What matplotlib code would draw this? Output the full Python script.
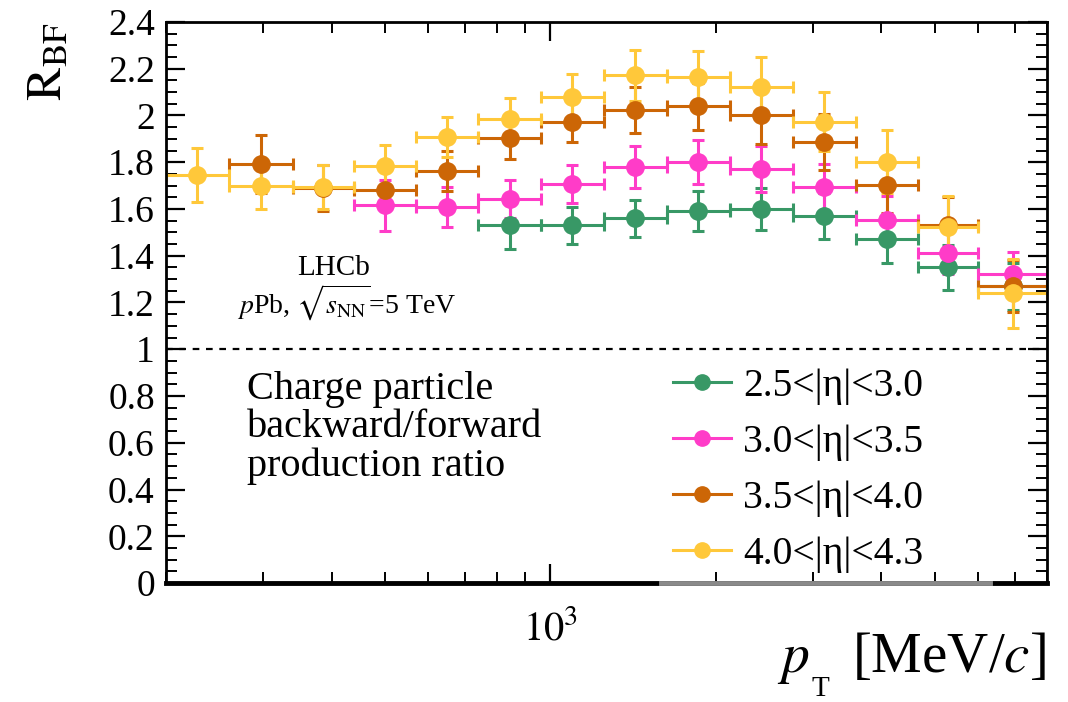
import matplotlib.pyplot as plt
from matplotlib.lines import Line2D
from matplotlib.ticker import MultipleLocator, LogLocator, NullFormatter, FixedLocator, FixedFormatter

plt.rcParams['font.family'] = ['Liberation Serif', 'DejaVu Serif']
plt.rcParams['mathtext.fontset'] = 'stix'

# bin edges in pT [MeV/c]
edges = [200, 260, 340, 440, 570, 740, 960, 1250, 1630, 2120, 2760, 3590, 4660, 6000, 8000]

# R_BF values per eta bin (first bin index where the series starts)
labels = ['2.5<|η|<3.0', '3.0<|η|<3.5', '3.5<|η|<4.0', '4.0<|η|<4.3']
colors = ['#389866', '#ff3cc8', '#cc6606', '#ffc83a']
start = [5, 3, 1, 0]

r_eta1 = [1.53, 1.53, 1.56, 1.59, 1.60, 1.57, 1.47, 1.35, 1.27]
e_eta1 = [0.10, 0.08, 0.08, 0.086, 0.09, 0.097, 0.10, 0.098, 0.10]
r_eta2 = [1.615, 1.608, 1.642, 1.707, 1.778, 1.800, 1.771, 1.692, 1.554, 1.411, 1.322]
e_eta2 = [0.11, 0.085, 0.08, 0.08, 0.09, 0.094, 0.10, 0.10, 0.10, 0.09, 0.096]
r_eta3 = [1.793, 1.69, 1.682, 1.763, 1.904, 1.973, 2.023, 2.039, 2.004, 1.888, 1.701, 1.532, 1.270]
e_eta3 = [0.125, 0.10, 0.085, 0.085, 0.09, 0.088, 0.10, 0.10, 0.124, 0.12, 0.12, 0.12, 0.11]
r_eta4 = [1.747, 1.697, 1.694, 1.782, 1.909, 1.983, 2.079, 2.172, 2.164, 2.122, 1.973, 1.803, 1.525, 1.239]
e_eta4 = [0.115, 0.095, 0.095, 0.09, 0.085, 0.09, 0.097, 0.11, 0.11, 0.13, 0.127, 0.134, 0.13, 0.146]

series = [(r_eta1, e_eta1), (r_eta2, e_eta2), (r_eta3, e_eta3), (r_eta4, e_eta4)]

fig = plt.figure(figsize=(10.68, 7.02), dpi=100)
ax = fig.add_axes([0.1554, 0.1695, 0.8249, 0.7992])

for (vals, errs), c, s in zip(series, colors, start):
    lo = edges[s:s + len(vals)]
    hi = edges[s + 1:s + 1 + len(vals)]
    xc = [(a * b) ** 0.5 for a, b in zip(lo, hi)]
    xerr = [[x - a for x, a in zip(xc, lo)], [b - x for x, b in zip(xc, hi)]]
    ax.errorbar(xc, vals, xerr=xerr, yerr=errs, fmt='o', color=c, ms=12.5,
                elinewidth=2.2, capsize=4, capthick=2.2, clip_on=True)

ax.axhline(1, color='black', ls=(0, (3, 3)), lw=1.6)

ax.set_xscale('log')
ax.set_xlim(200, 8000)
ax.set_ylim(0, 2.4)

ax.yaxis.set_minor_locator(MultipleLocator(0.05))
ax.set_yticks([0, 0.2, 0.4, 0.6, 0.8, 1, 1.2, 1.4, 1.6, 1.8, 2, 2.2, 2.4])
ax.set_yticklabels(['0', '0.2', '0.4', '0.6', '0.8', '1', '1.2', '1.4', '1.6', '1.8', '2', '2.2', '2.4'])
ax.xaxis.set_major_locator(FixedLocator([1000]))
ax.xaxis.set_major_formatter(FixedFormatter([r'$10^{3}$']))
ax.xaxis.set_minor_locator(LogLocator(base=10, subs=range(2, 10), numticks=20))
ax.xaxis.set_minor_formatter(NullFormatter())

ax.tick_params(which='both', direction='in', top=True, right=True, pad=8)
ax.tick_params(axis='y', labelsize=27)
ax.tick_params(axis='x', labelsize=29)
ax.tick_params(which='major', length=14, width=1.6)
ax.tick_params(which='minor', length=8, width=1.4)
ax.tick_params(axis='x', which='major', pad=20)

for side in ['left', 'right', 'top']:
    ax.spines[side].set_linewidth(2)
ax.spines['bottom'].set_linewidth(3.5)

# grey segment over the bottom axis under the legend
ax.plot([1590, 6310], [0, 0], color='#8a8a8a', lw=3.5, clip_on=False, zorder=6)

ax.set_ylabel(r'$\mathrm{R}_{\mathrm{BF}}$', fontsize=36, loc='top')
ax.yaxis.set_label_coords(-0.106, 1.0)

# x label, ROOT style with a low subscript
fig.text(777 / 1068, 0.043, r'$p$', fontsize=40, ha='left', va='baseline')
fig.text(811 / 1068, 0.009, 'T', fontsize=21, ha='left', va='baseline')
fig.text(1046 / 1068, 0.043, r'[MeV/$c$]', fontsize=41, ha='right', va='baseline')

ax.text(0.19, 0.5615, 'LHCb', transform=ax.transAxes, fontsize=21, ha='center', va='center')
ax.text(0.205, 0.499, r'$p$Pb, $\sqrt{s_{\mathrm{NN}}}$=5 TeV', transform=ax.transAxes,
        fontsize=20, ha='center', va='center')
ax.text(0.092, 0.276, 'Charge particle\nbackward/forward\nproduction ratio', transform=ax.transAxes,
        fontsize=29, ha='left', va='center', linespacing=1.05)

handles = [Line2D([], [], color=c, marker='o', ms=11, lw=2.2) for c in colors]
ax.legend(handles, labels, loc='lower left', bbox_to_anchor=(0.5755, 0.018), frameon=False,
          fontsize=28.5, handlelength=1.47, handletextpad=0.3, labelspacing=0.48,
          borderpad=0, borderaxespad=0)

fig.savefig('out.png', dpi=100)
